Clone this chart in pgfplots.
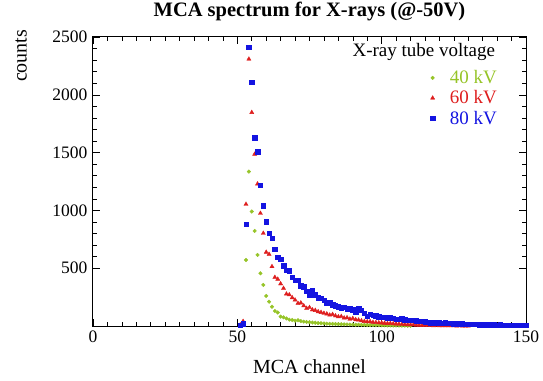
\documentclass[border=0pt]{standalone}
\usepackage{fontspec}
\setmainfont{Liberation Serif}
\usepackage{pgfplots}
\usepackage{pgfplotstable}
\pgfplotsset{compat=1.18}
\definecolor{cgreen}{RGB}{150,196,40}
\definecolor{cred}{RGB}{222,30,30}
\definecolor{cblue}{RGB}{20,20,225}
\pgfplotstableread{
ch c
53 571
54 1336
55 990
56 822
57 615
58 456
59 355
60 260
61 210
62 167
63 130
64 117
65 81
66 75
67 65
68 55
69 52
70 46
71 50
72 42
73 38
74 35
75 33
76 30
77 28
78 25
79 24
80 22
81 20
82 19
83 18
84 17
85 16
86 15
87 14
88 14
89 13
90 12
91 11
92 11
93 10
94 10
95 9
96 8
97 8
98 7
99 7
100 6
101 6
102 5
103 5
104 4
105 4
106 3
107 3
108 3
109 2
110 2
}\green
\pgfplotstableread{
ch c
51 10
52 40
53 1053
54 2309
55 1847
56 1486
57 1229
58 975
59 802
60 638
61 620
62 514
63 421
64 405
65 365
66 326
67 277
68 270
69 245
70 225
71 196
72 200
73 175
74 153
75 160
76 140
77 135
78 124
79 118
80 110
81 105
82 95
83 100
84 88
85 80
86 82
87 70
88 72
89 60
90 65
91 55
92 52
93 45
94 40
95 37
96 38
97 32
98 30
99 28
100 27
101 25
102 22
103 23
104 20
105 18
106 17
107 15
108 14
109 12
110 11
111 10
112 8
113 7
114 5
115 6
116 4
117 5
118 3
119 4
120 3
121 3
122 2
123 3
124 2
125 2
126 1
127 2
128 1
129 1
130 1
}\red
\pgfplotstableread{
ch c
51 5
52 20
53 880
54 2410
55 2107
56 1630
57 1509
58 1218
59 1039
60 903
61 802
62 759
63 664
64 595
65 580
66 520
67 485
68 480
69 421
70 398
71 398
72 350
73 340
74 300
75 268
76 312
77 270
78 245
79 240
80 225
81 196
82 200
83 185
84 175
85 167
86 160
87 165
88 150
89 153
90 140
91 124
92 150
93 135
94 110
95 87
96 100
97 95
98 90
99 80
100 75
101 78
102 70
103 72
104 65
105 60
106 58
107 62
108 55
109 52
110 50
111 48
112 45
113 40
114 42
115 38
116 35
117 30
118 29
119 32
120 28
121 25
122 27
123 22
124 24
125 20
126 22
127 18
128 20
129 17
130 16
131 18
132 14
133 15
134 12
135 14
136 11
137 12
138 10
139 11
140 9
141 10
142 8
143 9
144 7
145 8
146 6
147 7
148 6
149 6
150 5
}\blue
\begin{document}
\begin{tikzpicture}
\useasboundingbox (-93pt,-54pt) rectangle (450pt,326pt);
\begin{axis}[
  at={(0,0)}, anchor=south west,
  scale only axis, width=433pt, height=289pt,
  xmin=0, xmax=150, ymin=0, ymax=2500,
  xtick={0,50,100,150}, ytick={500,1000,1500,2000,2500},
  minor x tick num=9, minor y tick num=4,
  tick align=inside,
  major tick length=7pt, minor tick length=4pt,
  axis line style={line width=1pt},
  tick style={black, line width=0.6pt},
  /pgf/number format/assume math mode=true,
  /pgf/number format/1000 sep={},
  ticklabel style={font=\fontsize{17.5}{19}\selectfont},
  xticklabel style={yshift=-1pt},
  yticklabel style={xshift=-2pt},
  title={MCA spectrum for X-rays (@-50V)},
  title style={font=\fontsize{20.5}{23}\selectfont\bfseries, at={(rel axis cs:0.5,1)}, anchor=center, yshift=20pt},
  xlabel={MCA channel},
  xlabel style={font=\fontsize{20}{22}\selectfont, at={(rel axis cs:0.5,0)}, anchor=center, yshift=-41pt},
  ylabel={counts},
  ylabel style={font=\fontsize{20}{22}\selectfont, at={(rel axis cs:0,0.935)}, anchor=center, yshift=72pt},
  legend style={draw=none, fill=none, at={(rel axis cs:0.94,0.895)}, anchor=north east,
    font=\fontsize{19}{21}\selectfont, row sep=1.5pt, inner sep=1pt},
  legend cell align=left,
  clip=false,
]
\addplot[only marks, mark=*, mark size=1.8pt, color=cgreen] table[x=ch,y=c] {\green};
\addlegendentry{\hspace{13pt}\textcolor{cgreen}{40 kV}}
\addplot[only marks, mark=triangle*, mark size=2.4pt, color=cred] table[x=ch,y=c] {\red};
\addlegendentry{\hspace{13pt}\textcolor{cred}{60 kV}}
\addplot[only marks, mark=square*, mark size=2.2pt, color=cblue] table[x=ch,y=c] {\blue};
\addlegendentry{\hspace{13pt}\textcolor{cblue}{80 kV}}
\node[font=\fontsize{19}{21}\selectfont, anchor=center] at (rel axis cs:0.764,0.948) {X-ray tube voltage};
\end{axis}
\end{tikzpicture}
\end{document}
